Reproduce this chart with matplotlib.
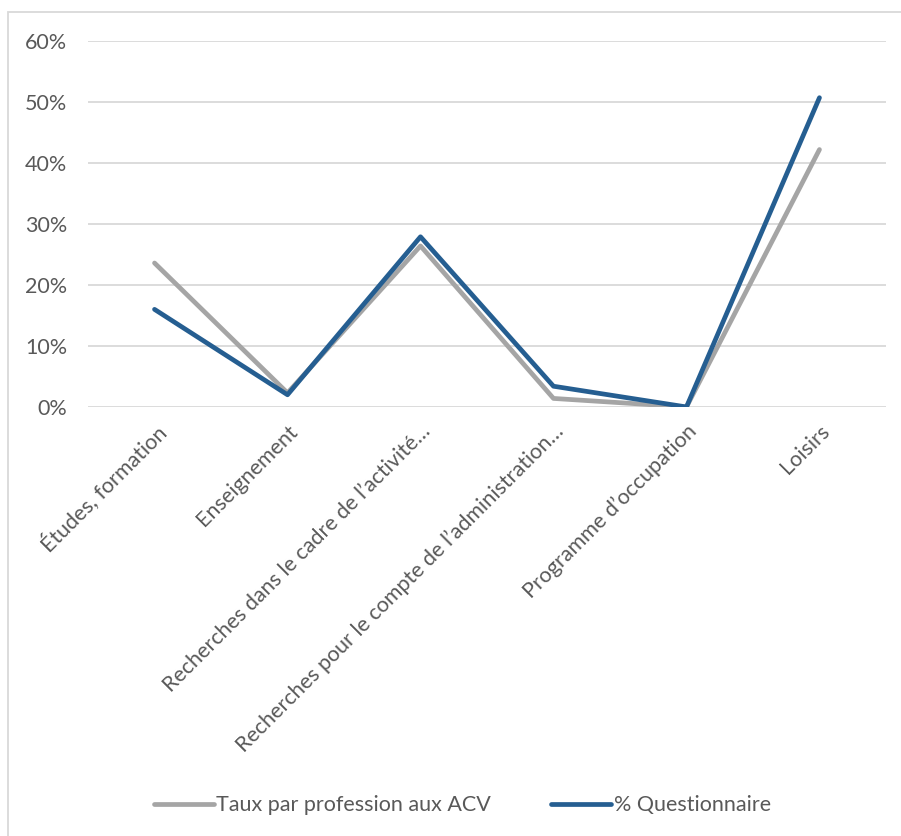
import matplotlib
matplotlib.use("Agg")
import matplotlib.pyplot as plt
from matplotlib.patches import Rectangle
from matplotlib.ticker import FuncFormatter

plt.rcParams['font.family'] = ['Lato', 'DejaVu Sans']

# donnees
categories = ["Études, formation", "Enseignement",
              "Recherches dans le cadre de l’activité…",
              "Recherches pour le compte de l’administration…",
              "Programme d’occupation", "Loisirs"]
taux_acv = [0.236, 0.023, 0.264, 0.014, 0.0, 0.422]
questionnaire = [0.160, 0.020, 0.279, 0.034, 0.0, 0.507]

gris = "#A5A5A5"
bleu = "#255E91"
texte = "#595959"

fig = plt.figure(figsize=(9.01, 8.36), dpi=100)
ax = fig.add_axes([0.0977, 0.5132, 0.8856, 0.4378])

x = list(range(len(categories)))
ax.plot(x, taux_acv, color=gris, lw=3.4, solid_capstyle='round',
        solid_joinstyle='round', label="Taux par profession aux ACV")
ax.plot(x, questionnaire, color=bleu, lw=3.4, solid_capstyle='round',
        solid_joinstyle='round', label="% Questionnaire")

ax.set_xlim(-0.5, len(categories) - 0.5)
ax.set_ylim(0, 0.6)
ax.set_yticks([0, 0.1, 0.2, 0.3, 0.4, 0.5, 0.6])
ax.yaxis.set_major_formatter(FuncFormatter(lambda v, p: f"{v*100:.0f}%"))
ax.grid(axis='y', color="#D9D9D9", lw=1.3)
ax.set_axisbelow(True)
for s in ax.spines.values():
    s.set_visible(False)
ax.tick_params(axis='both', length=0, labelsize=15.5, labelcolor=texte)
ax.tick_params(axis='y', pad=15)
ax.set_xticks(x)
ax.set_xticklabels(categories, rotation=45, ha='right', rotation_mode='anchor')
ax.tick_params(axis='x', pad=10)

fig.legend(loc='center', bbox_to_anchor=(0.513, 0.037), ncol=2, frameon=False,
           fontsize=15.5, labelcolor=texte, handlelength=2.8, handletextpad=0.1,
           columnspacing=2.8)

# cadre du graphique
fig.patches.append(Rectangle((8 / 901, -0.01), 1.0, 1 - 12 / 836 + 0.01,
                             transform=fig.transFigure, fill=False,
                             edgecolor="#D9D9D9", lw=1.3))

fig.savefig("out.png", dpi=100)
